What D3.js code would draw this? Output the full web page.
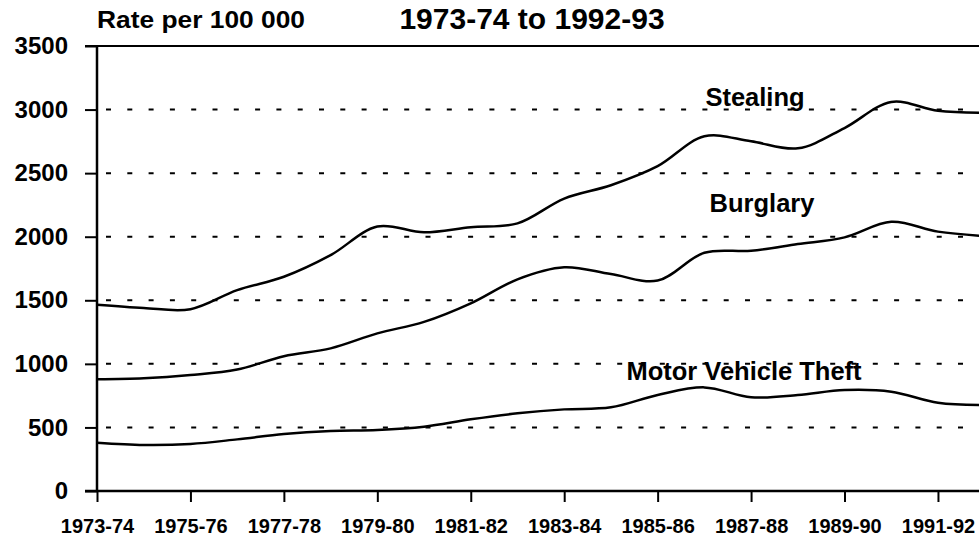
<!DOCTYPE html>
<html>
<head>
<meta charset="utf-8">
<script src="https://cdn.jsdelivr.net/npm/d3@7"></script>
<style>
  body { margin: 0; background: #fff; }
  svg { display: block; font-family: "Liberation Sans", Arial, sans-serif; }
</style>
</head>
<body>
<div id="chart"></div>
<script>
// Data (rate per 100 000)
var years = ["1973-74", "1974-75", "1975-76", "1976-77", "1977-78", "1978-79", "1979-80",
             "1980-81", "1981-82", "1982-83", "1983-84", "1984-85", "1985-86", "1986-87",
             "1987-88", "1988-89", "1989-90", "1990-91", "1991-92", "1992-93"];
var stealing = [1465, 1440, 1430, 1580, 1685, 1855, 2080, 2035, 2075, 2105,
                2300, 2405, 2555, 2790, 2750, 2695, 2855, 3060, 2990, 2975];
var burglary = [878, 886, 912, 955, 1060, 1122, 1240, 1330, 1476, 1665,
                1760, 1706, 1655, 1874, 1889, 1942, 1995, 2117, 2040, 2005];
var motorVehicleTheft = [380, 362, 370, 406, 448, 472, 480, 506, 564, 611,
                         642, 658, 755, 815, 737, 755, 794, 781, 694, 676];
var yTicks = [0, 500, 1000, 1500, 2000, 2500, 3000, 3500];

var series = [
  {name: "Stealing", values: stealing, lx: 755, ly: 106},
  {name: "Burglary", values: burglary, lx: 762, ly: 212},
  {name: "Motor Vehicle Theft", values: motorVehicleTheft, lx: 744, ly: 380}
];

// Screen
var width = 979, height = 541;
var margin = {left: 97, top: 46, bottom: 50};

var svg = d3.select("#chart")
            .append("svg")
            .attr("width", width)
            .attr("height", height);

// Scales (the last year sits just past the right edge, as in the picture)
var x = d3.scalePoint()
          .domain(years)
          .range([margin.left, margin.left + 46.72 * (years.length - 1)]);

var y = d3.scaleLinear()
          .domain([0, 3500])
          .range([height - margin.bottom, margin.top]);

// Title
svg.append("text")
   .attr("x", 532)
   .attr("y", 29)
   .attr("text-anchor", "middle")
   .attr("font-size", 30)
   .attr("font-weight", "bold")
   .text("1973-74 to 1992-93");

svg.append("text")
   .attr("x", 97)
   .attr("y", 28)
   .attr("font-size", 23)
   .attr("font-weight", "bold")
   .attr("textLength", 208)
   .attr("lengthAdjust", "spacingAndGlyphs")
   .text("Rate per 100 000");

// Grid
svg.append("g")
   .selectAll("line")
   .data(yTicks.filter(function(d) { return d > 0 && d < 3500; }))
   .enter().append("line")
   .attr("x1", margin.left + 9)
   .attr("x2", width - 4)
   .attr("y1", function(d) { return y(d); })
   .attr("y2", function(d) { return y(d); })
   .attr("stroke", "#000")
   .attr("stroke-width", 2)
   .attr("stroke-dasharray", "5 16.3");

// Top frame line
svg.append("line")
   .attr("x1", margin.left - 12)
   .attr("x2", width)
   .attr("y1", y(3500))
   .attr("y2", y(3500))
   .attr("stroke", "#000")
   .attr("stroke-width", 2);

// Axes
var leftAxis = d3.axisLeft(y).tickValues(yTicks).tickFormat(d3.format("d"))
                 .tickSize(12).tickPadding(17);
var bottomAxis = d3.axisBottom(x)
                   .tickValues(years.filter(function(d, i) { return i % 2 === 0; }))
                   .tickSize(11).tickPadding(17);

var gy = svg.append("g")
            .attr("transform", "translate(" + margin.left + ",0)")
            .call(leftAxis);
gy.selectAll("text").attr("font-size", 24).attr("font-weight", "bold").attr("fill", "#000")
  .attr("font-family", "'Liberation Sans', Arial, sans-serif");

var gx = svg.append("g")
            .attr("transform", "translate(0," + y(0) + ")")
            .call(bottomAxis);
gx.selectAll("text").attr("font-size", 20).attr("font-weight", "bold").attr("fill", "#000")
  .attr("font-family", "'Liberation Sans', Arial, sans-serif");

[gx, gy].forEach(function(g) {
  g.select(".domain").remove();
  g.selectAll("line").attr("stroke", "#000").attr("stroke-width", 2);
});

// Axis lines
svg.append("line")
   .attr("x1", margin.left).attr("x2", margin.left)
   .attr("y1", y(3500)).attr("y2", y(0))
   .attr("stroke", "#000").attr("stroke-width", 2.5);
svg.append("line")
   .attr("x1", margin.left - 12).attr("x2", width)
   .attr("y1", y(0)).attr("y2", y(0))
   .attr("stroke", "#000").attr("stroke-width", 2.5);

// Lines
var line = d3.line()
             .x(function(d, i) { return x(years[i]); })
             .y(function(d) { return y(d); })
             .curve(d3.curveCatmullRom.alpha(0.5));

svg.append("g")
   .selectAll("path")
   .data(series)
   .enter().append("path")
   .attr("d", function(d) { return line(d.values); })
   .attr("fill", "none")
   .attr("stroke", "#000")
   .attr("stroke-width", 2.5);

// Series labels
svg.append("g")
   .selectAll("text")
   .data(series)
   .enter().append("text")
   .attr("x", function(d) { return d.lx; })
   .attr("y", function(d) { return d.ly; })
   .attr("text-anchor", "middle")
   .attr("font-size", 25.5)
   .attr("font-weight", "bold")
   .text(function(d) { return d.name; });
</script>
</body>
</html>
